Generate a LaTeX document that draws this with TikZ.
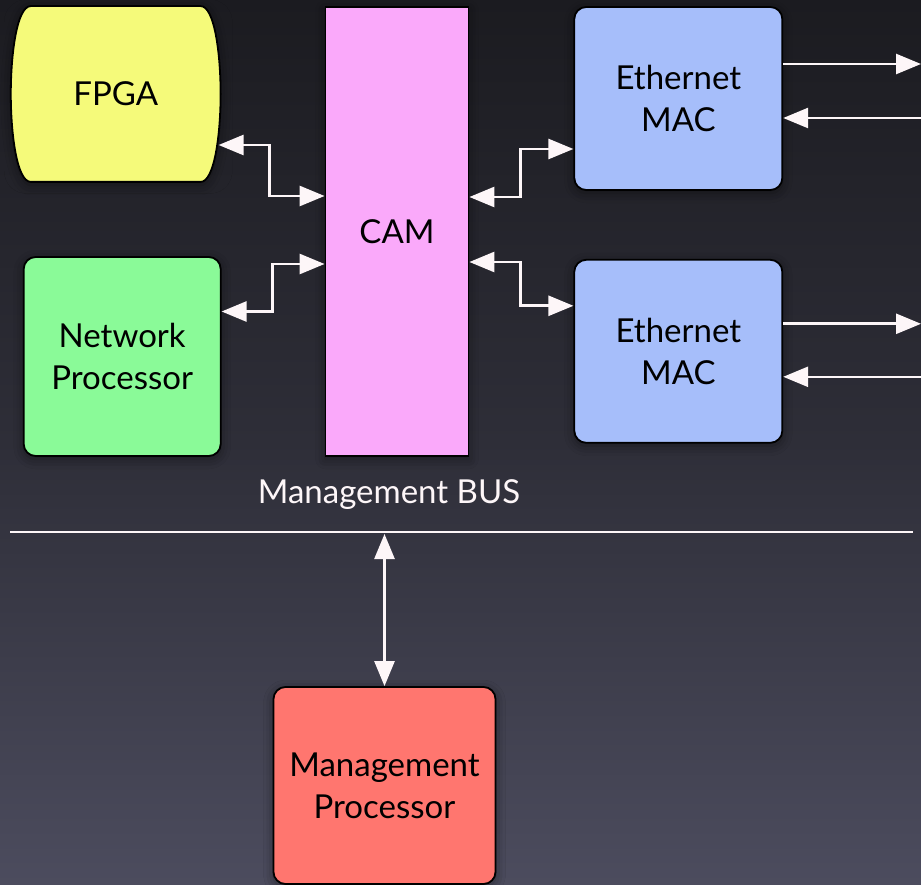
\documentclass[tikz,border=0pt]{standalone}
\usepackage{fontspec}
\setmainfont{Lato}
\usepackage{xcolor}
\usetikzlibrary{arrows.meta, positioning, shadows.blur}
\definecolor{bgtop}{HTML}{1B1B20}
\definecolor{bgmid}{HTML}{2E2E38}
\definecolor{bgbot}{HTML}{4C4C5E}
\definecolor{fpgafill}{HTML}{F5FA7A}
\definecolor{camfill}{HTML}{FAA9FA}
\definecolor{npfill}{HTML}{8AFA98}
\definecolor{macfill}{HTML}{A6BEFA}
\definecolor{mpfill}{HTML}{FF766F}
\definecolor{wirewhite}{HTML}{FDF6F8}
\tikzset{
  halo/.style={blur shadow={shadow xshift=0pt, shadow yshift=-3pt,
               shadow blur radius=10pt, shadow opacity=45}},
  block/.style={rectangle, rounded corners=12pt, draw=black, line width=1.8pt,
                fill=#1, text=black, font=\fontsize{33}{42}\selectfont,
                inner sep=0pt, align=center, halo},
  block/.default=macfill,
  barrel/.style={draw=black, line width=1.8pt, fill=fpgafill, halo},
  link/.style={{Triangle[length=25pt,width=20pt]}-{Triangle[length=25pt,width=20pt]},
               line width=2.6pt, draw=wirewhite},
  oneway/.style={-{Triangle[length=25pt,width=20pt]},
                 line width=2.6pt, draw=wirewhite},
  busline/.style={line width=2pt, draw=wirewhite},
  lbl/.style={font=\fontsize{33}{40}\selectfont, text=wirewhite},
}
\begin{document}
\begin{tikzpicture}[x=1pt, y=-1pt]
  \shade[top color=bgtop, bottom color=bgbot, middle color=bgmid]
    (0,0) rectangle (921,885);
  \useasboundingbox (0,0) rectangle (921,885);
  %% CAM in the middle
  \node[block=camfill, rounded corners=0pt, minimum width=143pt,
        minimum height=449pt] (cam) at (397,231.5) {CAM};
  %% left side
  \node[block=fpgafill, draw=none, fill=none, blur shadow={shadow opacity=0},
        minimum width=208pt, minimum height=174pt,
        below left=0pt and 104pt of cam.north west] (fpga) {};
  \draw[barrel] ([xshift=20pt]fpga.north west) -- ([xshift=-20pt]fpga.north east)
    .. controls ([xshift=-6pt]fpga.north east) and ([yshift=-48pt]fpga.north east)
    .. (fpga.east)
    .. controls ([yshift=48pt]fpga.south east) and ([xshift=-6pt]fpga.south east)
    .. ([xshift=-20pt]fpga.south east) -- ([xshift=20pt]fpga.south west)
    .. controls ([xshift=6pt]fpga.south west) and ([yshift=48pt]fpga.south west)
    .. (fpga.west)
    .. controls ([yshift=-48pt]fpga.north west) and ([xshift=6pt]fpga.north west)
    .. cycle;
  \node[font=\fontsize{33}{42}\selectfont] at (fpga.center) {FPGA};
  \node[block=npfill, minimum width=197pt, minimum height=199pt,
        above left=0pt and 103pt of cam.south west] (np) {Network\\Processor};
  %% right side
  \node[block, minimum width=208pt, minimum height=183pt,
        below right=0pt and 104pt of cam.north east] (mac1) {Ethernet\\MAC};
  \node[block, minimum width=208pt, minimum height=183pt,
        below=68pt of mac1] (mac2) {Ethernet\\MAC};
  %% management
  \node[lbl] (buslbl) at (389,495) {Management BUS};
  \coordinate (busL) at (10,532);
  \coordinate (busR) at (913,532);
  \coordinate (edgeR) at (921,0);
  \node[block=mpfill, minimum width=222pt, minimum height=197pt]
    (mp) at (384.5,785.5) {Management\\Processor};
  %% CAM links
  \draw[link] ([xshift=-2pt,yshift=-51pt]fpga.east) -- ++(51,0)
    |- ([yshift=35.5pt]cam.west);
  \draw[link] ([yshift=45pt]np.east) -- ++(51,0)
    |- ([yshift=-32.5pt]cam.west);
  \draw[link] ([yshift=34.5pt]cam.east) -- ++(51,0)
    |- ([yshift=-50.5pt]mac1.west);
  \draw[link] ([yshift=-30.5pt]cam.east) -- ++(51,0)
    |- ([yshift=45.5pt]mac2.west);
  %% ports
  \foreach \m/\a/\b in {mac1/34.5/-19.5, mac2/27.5/-25.5}{
    \draw[oneway] ([yshift=\a pt]\m.east) -- ([yshift=\a pt]\m.east -| edgeR);
    \draw[oneway] ([yshift=\b pt]\m.east -| edgeR) -- ([yshift=\b pt]\m.east);
  }
  %% bus
  \draw[busline] (busL) -- (busR);
  \draw[link] (mp.north) -- ([yshift=-2pt]mp.north |- busL);
\end{tikzpicture}
\end{document}
